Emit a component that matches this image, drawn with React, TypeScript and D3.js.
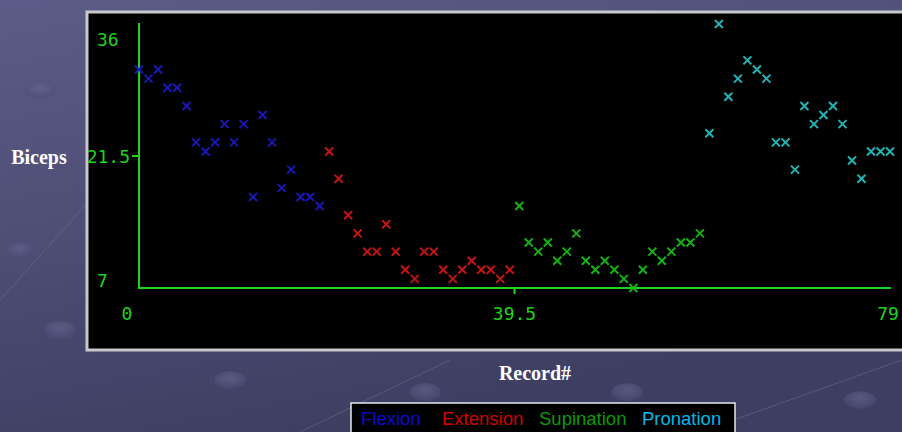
import React from "react";
import * as d3 from "d3";

const seriesNames = ["Flexion", "Extension", "Supination", "Pronation"];
const seriesColors = ["#1818b8", "#c41414", "#14b014", "#22b4b4"];
const legendColors = ["#0a0ad0", "#d00000", "#0a9a0a", "#00b8e8"];

const flexion = [31, 30, 31, 29, 29, 27, 23, 22, 23, 25, 23, 25, 17, 26, 23, 18, 20, 17, 17, 16];
const extension = [22, 19, 15, 13, 11, 11, 14, 11, 9, 8, 11, 11, 9, 8, 9, 10, 9, 9, 8, 9];
const supination = [16, 12, 11, 12, 10, 11, 13, 10, 9, 10, 9, 8, 7, 9, 11, 10, 11, 12, 12, 13];
const pronation = [24, 36, 28, 30, 32, 31, 30, 23, 23, 20, 27, 25, 26, 27, 25, 21, 19, 22, 22, 22];

const yTicks = [36, 21.5, 7];
const xTicks = [0, 39.5, 79];
const yLabel = "Biceps";
const xLabel = "Record#";

const W = 902;
const H = 432;

export default function App() {
  const all = [flexion, extension, supination, pronation];
  const points = all.flatMap((arr, s) =>
    arr.map((v, i) => ({ idx: s * 20 + i, v, s }))
  );
  const x = d3.scaleLinear().domain([0, 79]).range([139, 890]);
  const y = d3.scaleLinear().domain([7, 36]).range([288, 24]);
  const monoFont = "'DejaVu Sans Mono', 'Liberation Mono', monospace";
  const axisColor = "#1ed21e";

  const legendX = [361, 442, 539, 642];

  return (
    <svg width={W} height={H} style={{ position: "absolute", left: 0, top: 0 }}>
      <defs>
        <linearGradient id="bg" x1="0" y1="0" x2="0.4" y2="1">
          <stop offset="0" stopColor="#5c5c88" />
          <stop offset="1" stopColor="#3e3e62" />
        </linearGradient>
        <radialGradient id="dot" cx="0.5" cy="0.4" r="0.6">
          <stop offset="0" stopColor="#6a6a96" />
          <stop offset="1" stopColor="#4a4a72" />
        </radialGradient>
      </defs>
      <rect x={0} y={0} width={W} height={H} fill="url(#bg)" />
      <g opacity={0.6}>
        <ellipse cx={40} cy={90} rx={16} ry={9} fill="url(#dot)" />
        <ellipse cx={20} cy={250} rx={14} ry={8} fill="url(#dot)" />
        <ellipse cx={60} cy={330} rx={16} ry={9} fill="url(#dot)" />
        <ellipse cx={425} cy={392} rx={16} ry={9} fill="url(#dot)" />
        <ellipse cx={627} cy={392} rx={16} ry={9} fill="url(#dot)" />
        <ellipse cx={230} cy={380} rx={16} ry={9} fill="url(#dot)" />
        <ellipse cx={860} cy={400} rx={16} ry={9} fill="url(#dot)" />
        <line x1={0} y1={300} x2={90} y2={200} stroke="#6a6a94" strokeWidth={1} />
        <line x1={700} y1={432} x2={902} y2={360} stroke="#6a6a94" strokeWidth={1} />
        <line x1={300} y1={432} x2={450} y2={360} stroke="#6a6a94" strokeWidth={1} />
      </g>

      <rect x={87} y={12} width={840} height={338} fill="#000" stroke="#c8c8cc" strokeWidth={3} />

      {/* axes */}
      <line x1={x(0)} y1={y(36) - 1} x2={x(0)} y2={y(7) + 1} stroke={axisColor} strokeWidth={2} />
      <line x1={x(0)} y1={y(7)} x2={891} y2={y(7)} stroke={axisColor} strokeWidth={2} />
      <line x1={x(0) - 7} y1={y(21.5)} x2={x(0)} y2={y(21.5)} stroke={axisColor} strokeWidth={2} />
      <line x1={x(39.5)} y1={y(7)} x2={x(39.5)} y2={y(7) + 6} stroke={axisColor} strokeWidth={2} />

      <g fontFamily={monoFont} fontSize={18} fill={axisColor}>
        {yTicks.map((t, i) => (
          <text
            key={t}
            x={i === 1 ? x(0) - 9 : 97}
            y={i === 0 ? y(t) + 22 : i === 1 ? y(t) + 6.5 : y(t) - 1}
            textAnchor={i === 1 ? "end" : "start"}
          >
            {t}
          </text>
        ))}
        {xTicks.map((t, i) => (
          <text
            key={t}
            x={i === 0 ? x(t) - 12 : i === 2 ? x(t) - 2 : x(t)}
            y={320}
            textAnchor="middle"
          >
            {t}
          </text>
        ))}
      </g>

      {/* markers */}
      <g strokeWidth={2} fill="none">
        {points.map((p) => (
          <path
            key={p.idx}
            d="M-4,-4L4,4M-4,4L4,-4"
            transform={`translate(${x(p.idx)},${y(p.v)})`}
            stroke={seriesColors[p.s]}
          />
        ))}
      </g>

      <text x={39} y={164} textAnchor="middle" fontFamily="'Liberation Serif', 'DejaVu Serif', serif" fontWeight="bold" fontSize={20} fill="#fff">
        {yLabel}
      </text>
      <text x={535} y={380} textAnchor="middle" fontFamily="'Liberation Serif', 'DejaVu Serif', serif" fontWeight="bold" fontSize={20} fill="#fff">
        {xLabel}
      </text>

      <rect x={351} y={403} width={384} height={40} fill="#000" stroke="#e8e8e8" strokeWidth={1.5} />
      <g fontFamily="'Liberation Sans', Arial, sans-serif" fontSize={18.5}>
        {seriesNames.map((n, i) => (
          <text key={n} x={legendX[i]} y={425} fill={legendColors[i]}>
            {n}
          </text>
        ))}
      </g>
    </svg>
  );
}
